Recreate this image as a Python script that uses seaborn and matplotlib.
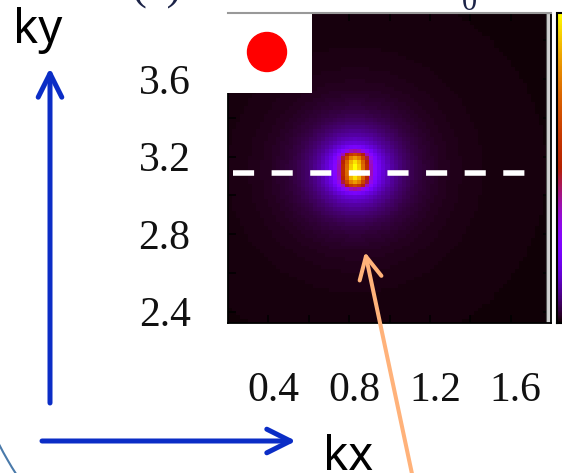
import numpy as np
import pandas as pd
import matplotlib
matplotlib.use("Agg")
import matplotlib.pyplot as plt
import seaborn as sns
from matplotlib.patches import Rectangle, Circle, Arc
from matplotlib.transforms import ScaledTranslation

# ---------------- data ----------------
KX_LO, KX_HI, NX = 0.2, 1.8, 80
KY_LO, KY_HI, NY = np.pi - 0.8, np.pi + 0.8, 80
PEAK_KX, PEAK_KY = 0.83, 3.1316
CORE_AMP, CORE_WX, CORE_WY = 0.67, 0.062, 0.093
HALO_AMP, HALO_W = 0.33, 0.17
BACKGROUND = 0.006
CUT_KY = 3.116
CUT_KX = [0.225, 1.752]
X_TICKS = [0.4, 0.6, 0.8, 1.0, 1.2, 1.4, 1.6]
X_LABELS = ["0.4", "", "0.8", "", "1.2", "", "1.6"]
Y_TICKS = [2.4, 2.6, 2.8, 3.0, 3.2, 3.4, 3.6, 3.8]
Y_LABELS = ["2.4", "", "2.8", "", "3.2", "", "3.6", ""]

kx = KX_LO + (np.arange(NX) + 0.5) * (KX_HI - KX_LO) / NX
ky = KY_HI - (np.arange(NY) + 0.5) * (KY_HI - KY_LO) / NY
KX, KY = np.meshgrid(kx, ky)
DX, DY = KX - PEAK_KX, KY - PEAK_KY
core = CORE_AMP * np.exp(-(DX / CORE_WX) ** 2) * np.exp(-(DY / CORE_WY) ** 4)
halo = HALO_AMP / (1.0 + (DX ** 2 + DY ** 2) / HALO_W ** 2) ** 1.5
inten = core + halo
inten = inten / inten.max() + BACKGROUND
df = pd.DataFrame(inten, index=np.round(ky, 3), columns=np.round(kx, 3))

# ---------------- figure ----------------
W, H = 562, 473
fig = plt.figure(figsize=(W / 100, H / 100), dpi=100)


def fr(x0, y0, x1, y1):
    return [x0 / W, 1 - y1 / H, (x1 - x0) / W, (y1 - y0) / H]


ax = fig.add_axes(fr(228, 13, 551, 323))
cax = fig.add_axes(fr(557, 13, 600, 323))
sns.heatmap(df, ax=ax, cbar_ax=cax, cmap="gnuplot", vmin=0, vmax=1,
            xticklabels=False, yticklabels=False)


def xpos(v):
    return (v - KX_LO) / (KX_HI - KX_LO) * NX


def ypos(v):
    return (KY_HI - v) / (KY_HI - KY_LO) * NY


ax.set_xticks([xpos(v) for v in X_TICKS])
ax.set_xticklabels(X_LABELS)
ax.set_yticks([ypos(v) for v in Y_TICKS])
ax.set_yticklabels(Y_LABELS, rotation=0)
ax.tick_params(axis="both", which="both", direction="in", length=6, width=1.1,
               color="black", top=True, right=True, labelsize=30,
               labelfontfamily="Liberation Serif", labelcolor="#111111")
ax.tick_params(axis="x", pad=35)
ax.tick_params(axis="y", pad=27)
off = ScaledTranslation(5 / 100, 0, fig.dpi_scale_trans)
for lab in ax.get_xticklabels():
    lab.set_transform(lab.get_transform() + off)

for name, s in ax.spines.items():
    s.set_visible(True)
    s.set_color("black")
    s.set_linewidth(1.3)
ax.spines["top"].set_color("#999999")
ax.spines["top"].set_linewidth(1.5)
ax.spines["top"].set_zorder(4)

# gray strip at right edge
ax.add_patch(Rectangle(((546 - 228) / 323, 0), 5 / 323, 1, transform=ax.transAxes,
                       facecolor="#cfcfcf", edgecolor="#555555", lw=0.8, zorder=2))
# white box top-left
ax.add_patch(Rectangle((-3 / 323, 1 - 80 / 310), (312 - 228 + 3) / 323, 80 / 310 + 0.01,
                       transform=ax.transAxes, facecolor="white", edgecolor="none",
                       zorder=3, clip_on=False))
# dashed cut line
ax.plot([xpos(CUT_KX[0]), xpos(CUT_KX[1])], [ypos(CUT_KY)] * 2, color="white", lw=4,
        dashes=(3.8, 3.15), dash_capstyle="butt", zorder=2.2)

cb = ax.collections[0].colorbar
cb.set_ticks([])
cb.outline.set_visible(True)
cb.outline.set_edgecolor("black")
cb.outline.set_linewidth(1.5)

# ---------------- overlay decorations ----------------
ax0 = fig.add_axes([0, 0, 1, 1])
ax0.set_xlim(0, W)
ax0.set_ylim(H, 0)
ax0.axis("off")

BLUE = "#0B2DC6"
ORANGE = "#FFB27A"
ax0.add_patch(Circle((267, 52), 19.5, color="red"))
ax0.annotate("", xy=(50, 68), xytext=(50, 403),
             arrowprops=dict(arrowstyle="->,head_length=1.7,head_width=0.85", color=BLUE,
                             lw=3.6, shrinkA=0, shrinkB=0, mutation_scale=10))
ax0.annotate("", xy=(296, 441), xytext=(42, 441),
             arrowprops=dict(arrowstyle="->,head_length=1.7,head_width=0.85", color=BLUE,
                             lw=3.6, shrinkA=0, shrinkB=0, mutation_scale=10))
ax0.annotate("", xy=(365, 252), xytext=(415, 488),
             arrowprops=dict(arrowstyle="->,head_length=1.6,head_width=0.8", color=ORANGE,
                             lw=2.9, shrinkA=0, shrinkB=0, mutation_scale=10,
                             capstyle="round", joinstyle="round"))
ax0.add_patch(Arc((354, 260), 800, 800, theta1=140, theta2=160, color="#4A7AAA", lw=1.5))

ax0.text(13, 43, "ky", fontsize=34, family="Noto Sans", ha="left", va="baseline", color="black")
ax0.text(323, 470, "kx", fontsize=34, family="Noto Sans", ha="left", va="baseline", color="black")
ax0.text(157, 0, "(a)", fontsize=32, family="Liberation Serif", ha="center", va="baseline",
         color="#1c2448")
ax0.text(469, 10, "0", fontsize=22, family="Liberation Serif", ha="center", va="baseline",
         color="#1c2448")

fig.savefig("out.png", dpi=100)
